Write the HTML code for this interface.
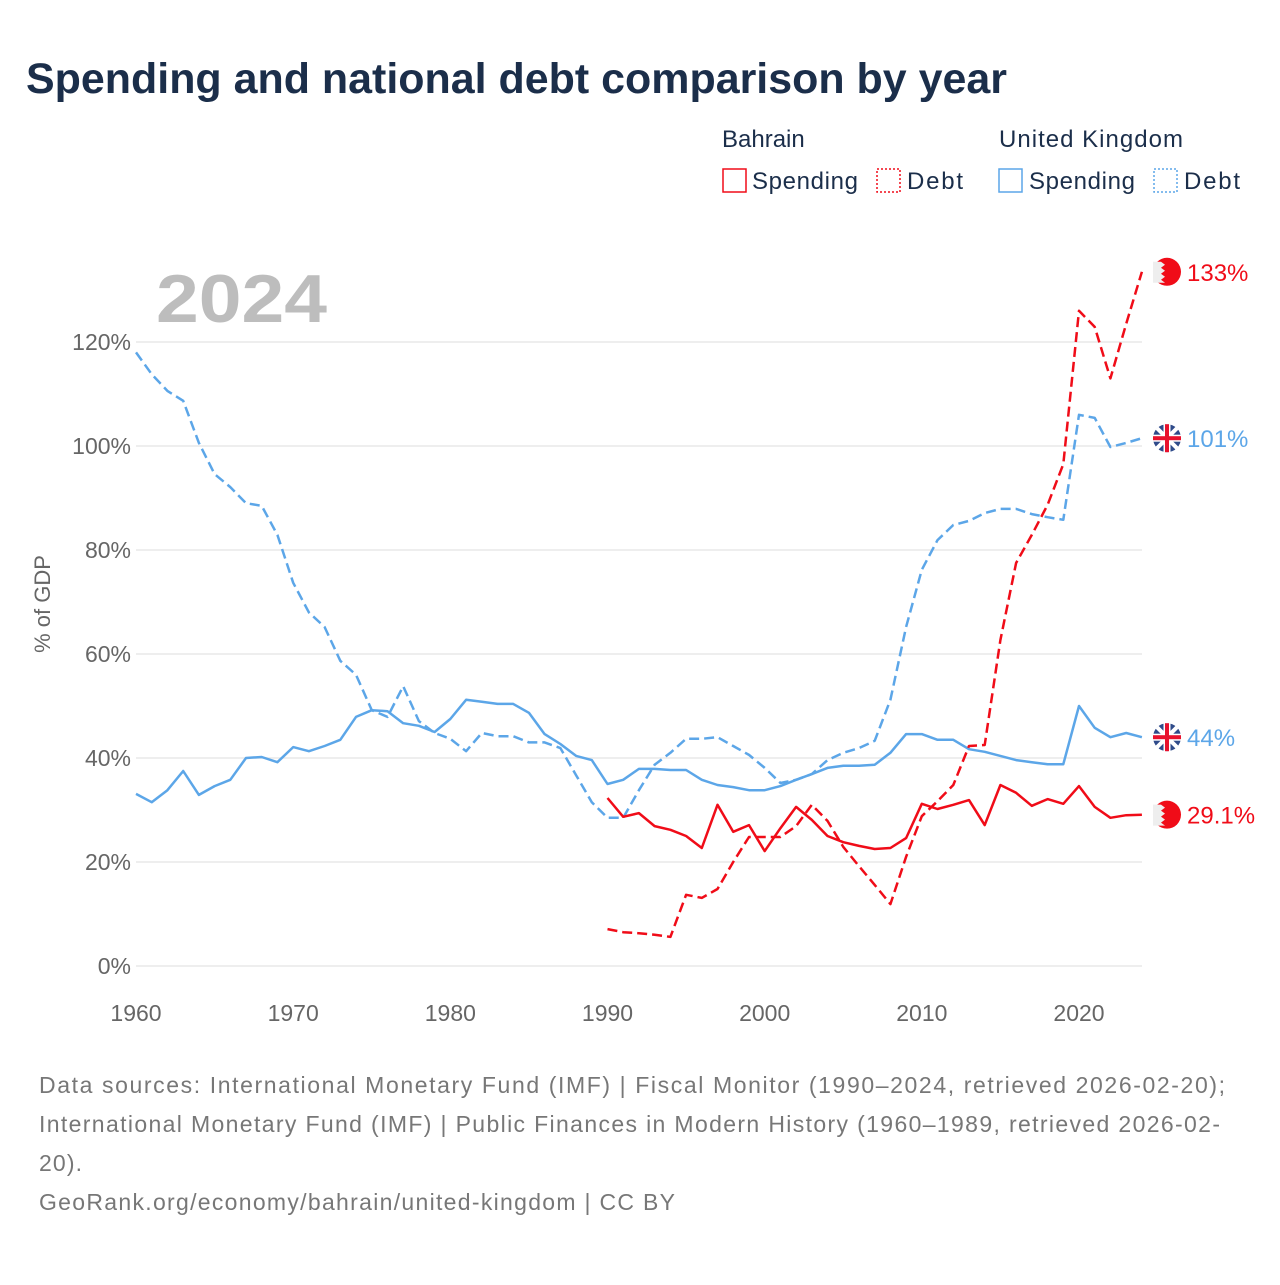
<!DOCTYPE html>
<html><head><meta charset="utf-8"><style>
body{margin:0;background:#fff;font-family:"Liberation Sans",sans-serif;}
svg text{font-family:"Liberation Sans",sans-serif;}
</style></head><body>
<svg width="1280" height="1280" viewBox="0 0 1280 1280">
<text x="26" y="93" font-size="43" font-weight="bold" fill="#1b2e4a" textLength="981" lengthAdjust="spacingAndGlyphs">Spending and national debt comparison by year</text>
<g>
<text x="722" y="147" font-size="24" fill="#1b2e4a">Bahrain</text>
<text x="999" y="147" font-size="24" fill="#1b2e4a" textLength="184">United Kingdom</text>
<rect x="723" y="169" width="23" height="23" fill="none" stroke="#f00c18" stroke-width="1.5"/>
<text x="752" y="189" font-size="24" fill="#1b2e4a" textLength="106">Spending</text>
<rect x="877" y="169" width="23" height="23" fill="none" stroke="#f00c18" stroke-width="1.5" stroke-dasharray="2,2"/>
<text x="907" y="189" font-size="24" fill="#1b2e4a" textLength="56">Debt</text>
<rect x="999" y="169" width="23" height="23" fill="none" stroke="#5ca6e8" stroke-width="1.5"/>
<text x="1029" y="189" font-size="24" fill="#1b2e4a" textLength="106">Spending</text>
<rect x="1154" y="169" width="23" height="23" fill="none" stroke="#5ca6e8" stroke-width="1.5" stroke-dasharray="2,2"/>
<text x="1184" y="189" font-size="24" fill="#1b2e4a" textLength="56">Debt</text>
</g>
<text x="156" y="322" font-size="68" font-weight="bold" fill="#bdbdbd" textLength="171" lengthAdjust="spacingAndGlyphs">2024</text>
<g id="grid"></g>
<g id="xticks"></g>
<text transform="translate(50,604) rotate(-90)" text-anchor="middle" font-size="22" fill="#666">% of GDP</text>
<g id="series"></g>
<g id="ends"></g>
<g font-size="23" fill="#777">
<text x="39" y="1093" textLength="1186">Data sources: International Monetary Fund (IMF) | Fiscal Monitor (1990–2024, retrieved 2026-02-20);</text>
<text x="39" y="1132" textLength="1181">International Monetary Fund (IMF) | Public Finances in Modern History (1960–1989, retrieved 2026-02-</text>
<text x="39" y="1171" textLength="43">20).</text>
<text x="39" y="1210" textLength="636">GeoRank.org/economy/bahrain/united-kingdom | CC BY</text>
</g>
</svg>
<script>
const ukYears0 = 1960;
const bhYears0 = 1990;
const yTicks = [0,20,40,60,80,100,120];
const xTicks = [1960,1970,1980,1990,2000,2010,2020];
const ukSpending = [33.1,31.5,33.8,37.5,32.9,34.6,35.8,40,40.2,39.2,42.1,41.3,42.3,43.5,47.9,49.2,49,46.7,46.2,45,47.5,51.2,50.8,50.4,50.4,48.7,44.6,42.7,40.4,39.6,35,35.8,37.9,37.9,37.7,37.7,35.8,34.8,34.4,33.8,33.8,34.6,35.8,36.9,38.1,38.5,38.5,38.7,41,44.6,44.6,43.5,43.5,41.7,41.2,40.4,39.6,39.2,38.8,38.8,50,45.8,44,44.8,44];
const ukDebt = [118,113.8,110.6,108.7,100.6,94.6,92.1,89,88.5,82.9,73.7,68,65.2,58.7,56,49.2,47.9,53.8,47.1,44.8,43.7,41.3,44.8,44.2,44.2,43,43,41.9,36.7,31.5,28.5,28.5,33.8,38.7,41,43.7,43.7,44,42.3,40.6,38.1,35.2,35.8,36.9,39.6,41,41.9,43.3,51.2,65.2,76.2,81.9,84.8,85.6,87.1,87.9,87.9,86.9,86.3,85.8,106,105.4,99.8,100.6,101.5];
const bhSpending = [32.3,28.7,29.4,26.9,26.2,25,22.7,31,25.8,27.1,22.1,26.5,30.6,28.1,25,23.8,23.1,22.5,22.7,24.6,31.2,30.2,31,31.9,27.1,34.8,33.3,30.8,32.1,31.2,34.6,30.6,28.5,29,29.1];
const bhDebt = [7.1,6.5,6.3,6,5.6,13.7,13.1,14.8,20,24.8,24.8,24.8,26.9,31,27.9,22.9,19.2,15.6,11.9,21,28.8,31.7,34.8,42.3,42.5,62.7,77.5,82.9,88.7,96.5,126,122.9,113,123.5,133.5];
const endLabels = ["44%","101%","29.1%","133%"];

const NS="http://www.w3.org/2000/svg";
const X = yr => 136 + (yr-1960)*943/60;
const Y = v => 966 - v*5.2;
function mk(tag, attrs, parent){const e=document.createElementNS(NS,tag);for(const k in attrs)e.setAttribute(k,attrs[k]);parent.appendChild(e);return e;}
const grid=document.getElementById('grid');
yTicks.forEach(t=>{
  const l=mk('line',{x1:136,x2:1142,y1:Y(t),y2:Y(t),stroke:'#e8e8e8','stroke-width':1.5},grid);
  
  
  const tx=mk('text',{x:131,y:Y(t)+8,'text-anchor':'end','font-size':23,fill:'#666'},grid);
  tx.textContent=t+'%';
  
  
});
const xt=document.getElementById('xticks');
xTicks.forEach(t=>{
  const tx=mk('text',{x:X(t),y:1021,'text-anchor':'middle','font-size':23,fill:'#666'},xt);
  tx.textContent=t;
  
  
});
const sg=document.getElementById('series');
function line(vals,start,color,dash,name){
  const pts=vals.map((v,i)=>X(start+i).toFixed(1)+','+Y(v).toFixed(1)).join(' ');
  const p=mk('polyline',{points:pts,fill:'none',stroke:color,'stroke-width':2.5,'stroke-linejoin':'round'},sg);
  if(dash)p.setAttribute('stroke-dasharray','10,5');
  
  
}
line(ukDebt,ukYears0,'#5ca6e8',true,'uk-debt-line');
line(ukSpending,ukYears0,'#5ca6e8',false,'uk-spending-line');
line(bhDebt,bhYears0,'#f00c18',true,'bahrain-debt-line');
line(bhSpending,bhYears0,'#f00c18',false,'bahrain-spending-line');
const eg=document.getElementById('ends');
const ends=[[ukSpending,'uk',endLabels[0],'#5ca6e8'],[ukDebt,'uk',endLabels[1],'#5ca6e8'],[bhSpending,'bh',endLabels[2],'#f00c18'],[bhDebt,'bh',endLabels[3],'#f00c18']];
ends.forEach((e,i)=>{
  const v=e[0][e[0].length-1], y=Y(v), cx=1167;
  const g=mk('g',{},eg);
  
  
  if(e[1]==='uk'){
    mk('circle',{cx:cx,cy:y,r:14,fill:'#2f4b8a'},g);
    mk('line',{x1:cx-10,y1:y-10,x2:cx+10,y2:y+10,stroke:'#fff','stroke-width':4},g);
    mk('line',{x1:cx+10,y1:y-10,x2:cx-10,y2:y+10,stroke:'#fff','stroke-width':4},g);
    mk('rect',{x:cx-14,y:y-3.5,width:28,height:7,fill:'#fff'},g);
    mk('rect',{x:cx-3.5,y:y-14,width:7,height:28,fill:'#fff'},g);
    mk('rect',{x:cx-14,y:y-2,width:28,height:4,fill:'#e8112d'},g);
    mk('rect',{x:cx-2,y:y-14,width:4,height:28,fill:'#e8112d'},g);
  } else {
    mk('circle',{cx:cx,cy:y,r:14,fill:'#f00c18'},g);
    mk('path',{d:`M${cx-14},${y-10} L${cx-6},${y-10} L${cx-2},${y-7} L${cx-6},${y-4} L${cx-2},${y-1} L${cx-6},${y+2} L${cx-2},${y+5} L${cx-6},${y+8} L${cx-2},${y+11} L${cx-14},${y+11}Z`,fill:'#eee'},g);
  }
  const t=mk('text',{x:1187,y:y+9,'font-size':24,fill:e[3]},eg);
  t.textContent=e[2];
  
  
});
</script>
</body></html>
